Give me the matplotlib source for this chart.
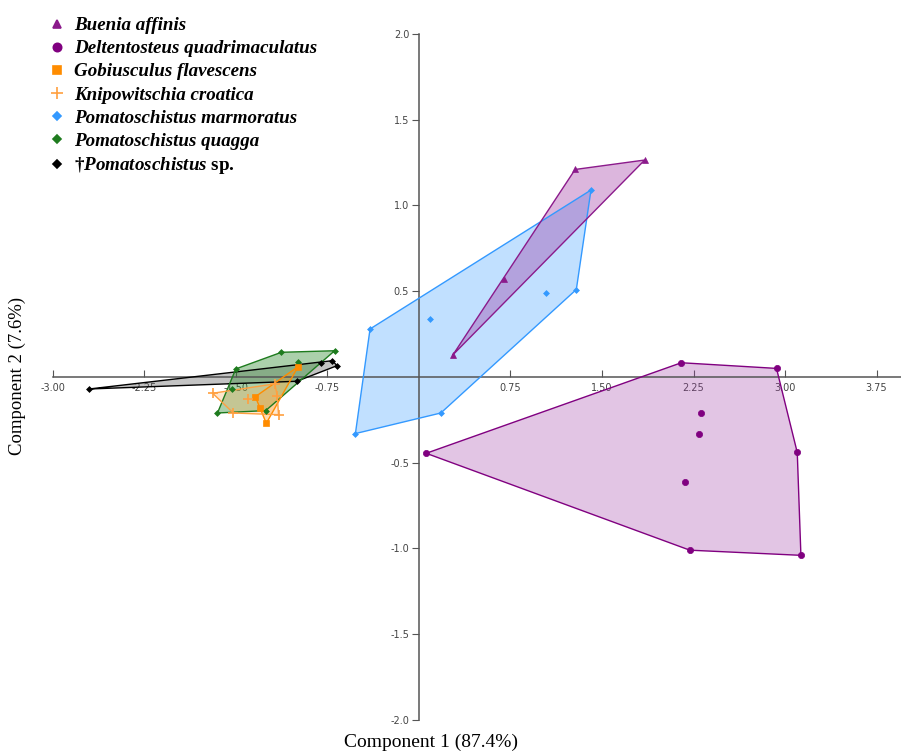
import matplotlib
matplotlib.use('Agg')
import matplotlib.pyplot as plt
from matplotlib.lines import Line2D
import numpy as np

# PCA scores (component 1, component 2)
buenia_x = [0.28, 0.70, 1.28, 1.85]
buenia_y = [0.13, 0.57, 1.21, 1.265]

delt_x = [2.15, 2.93, 3.10, 3.13, 2.22, 0.06, 2.31, 2.295, 2.18]
delt_y = [0.083, 0.05, -0.44, -1.04, -1.01, -0.445, -0.21, -0.33, -0.61]

gobius_x = [-0.99, -1.34, -1.25, -1.30]
gobius_y = [0.06, -0.115, -0.27, -0.18]

knipo_x = [-1.69, -1.52, -1.18, -1.16, -1.15, -1.40]
knipo_y = [-0.095, -0.21, -0.04, -0.11, -0.22, -0.13]

marm_x = [1.41, 1.29, 1.04, 0.09, -0.40, 0.18, -0.52]
marm_y = [1.09, 0.51, 0.49, 0.34, 0.28, -0.21, -0.33]

quagga_x = [-1.126, -0.69, -0.993, -1.50, -1.535, -1.65, -1.255]
quagga_y = [0.144, 0.153, 0.087, 0.047, -0.07, -0.21, -0.196]

sp_x = [-2.70, -0.80, -0.71, -0.67, -1.00]
sp_y = [-0.07, 0.08, 0.095, 0.066, -0.025]

names = ['Buenia affinis', 'Deltentosteus quadrimaculatus', 'Gobiusculus flavescens',
         'Knipowitschia croatica', 'Pomatoschistus marmoratus', 'Pomatoschistus quagga',
         '†$\\mathbfit{Pomatoschistus}$ sp.']
groups = [(buenia_x, buenia_y), (delt_x, delt_y), (gobius_x, gobius_y), (knipo_x, knipo_y),
          (marm_x, marm_y), (quagga_x, quagga_y), (sp_x, sp_y)]
colors = ['#8B1A8B', '#800080', '#FF8C00', '#FFA040', '#3399FF', '#1E7B1E', '#000000']
markers = ['^', 'o', 's', '+', 'D', 'D', 'D']
msizes = [4, 4.5, 4.5, 7, 3, 3, 3]
fills = ['#9B30A0', '#A040A8', '#FF9A20', '#FFB060', '#3399FF', '#2E8B2E', '#555555']
alphas = [0.35, 0.3, 0.35, 0.3, 0.3, 0.4, 0.35]


def hull(xs, ys):
    pts = sorted(set(zip(xs, ys)))
    def cross(o, a, b):
        return (a[0]-o[0])*(b[1]-o[1]) - (a[1]-o[1])*(b[0]-o[0])
    lower, upper = [], []
    for p in pts:
        while len(lower) >= 2 and cross(lower[-2], lower[-1], p) <= 0:
            lower.pop()
        lower.append(p)
    for p in reversed(pts):
        while len(upper) >= 2 and cross(upper[-2], upper[-1], p) <= 0:
            upper.pop()
        upper.append(p)
    return np.array(lower[:-1] + upper[:-1])


plt.rcParams['mathtext.fontset'] = 'custom'
plt.rcParams['mathtext.bfit'] = 'Liberation Serif:italic:bold'
plt.rcParams['mathtext.rm'] = 'Liberation Serif:bold'

fig = plt.figure(figsize=(9.01, 7.52), dpi=100)
ax = fig.add_axes([0.0585, 0.0426, 0.9415, 0.9122])

order = [4, 1, 0, 6, 5, 2, 3]
for i in order:
    xs, ys = groups[i]
    h = hull(xs, ys)
    ax.fill(h[:, 0], h[:, 1], facecolor=fills[i], alpha=alphas[i], zorder=2)
    hc = np.vstack([h, h[:1]])
    ax.plot(hc[:, 0], hc[:, 1], color=colors[i], lw=1, zorder=3)
for i in order:
    xs, ys = groups[i]
    ax.plot(xs, ys, linestyle='none', marker=markers[i], color=colors[i],
            markersize=msizes[i], markeredgewidth=1.2 if markers[i] == '+' else 0.5, zorder=4)

ax.set_xlim(-3.0, 3.95)
ax.set_ylim(-2.0, 2.0)
for s in ['top', 'right']:
    ax.spines[s].set_visible(False)
ax.spines['left'].set_position(('data', 0))
ax.spines['bottom'].set_position(('data', 0))
for s in ['left', 'bottom']:
    ax.spines[s].set_color('#555555')
    ax.spines[s].set_linewidth(1.1)
ax.patch.set_visible(False)

xt = [v for v in np.arange(-3.0, 3.76, 0.75) if abs(v) > 1e-9]
yt = [v for v in np.arange(-2.0, 2.01, 0.5) if abs(v) > 1e-9]
ax.set_xticks(xt)
ax.set_xticklabels(['%.2f' % v for v in xt])
ax.set_yticks(yt)
ax.set_yticklabels(['%.1f' % v for v in yt])
ax.tick_params(axis='x', direction='in', length=5, pad=4, labelsize=7, labelcolor='#444444', color='#555555')
ax.tick_params(axis='y', direction='out', length=5, pad=2, labelsize=7, labelcolor='#444444', color='#555555')

fig.text(0.478, 0.013, 'Component 1 (87.4%)', ha='center', va='center',
         family='Liberation Serif', fontsize=14)
fig.text(0.019, 0.50, 'Component 2 (7.6%)', ha='center', va='center', rotation=90,
         family='Liberation Serif', fontsize=13.5)

handles = [Line2D([], [], linestyle='none', marker=markers[i], color=colors[i],
                  markersize=msizes[i] + 1.5, markeredgewidth=1.2) for i in range(7)]
leg = fig.legend(handles, names, loc='upper left', bbox_to_anchor=(0.032, 1.0),
                 frameon=False, handletextpad=0.3, labelspacing=0.3, handlelength=1.2,
                 prop={'family': 'Liberation Serif', 'weight': 'bold', 'size': 13.7})
for t in leg.get_texts()[:6]:
    t.set_style('italic')

fig.savefig('out.png', dpi=100)
